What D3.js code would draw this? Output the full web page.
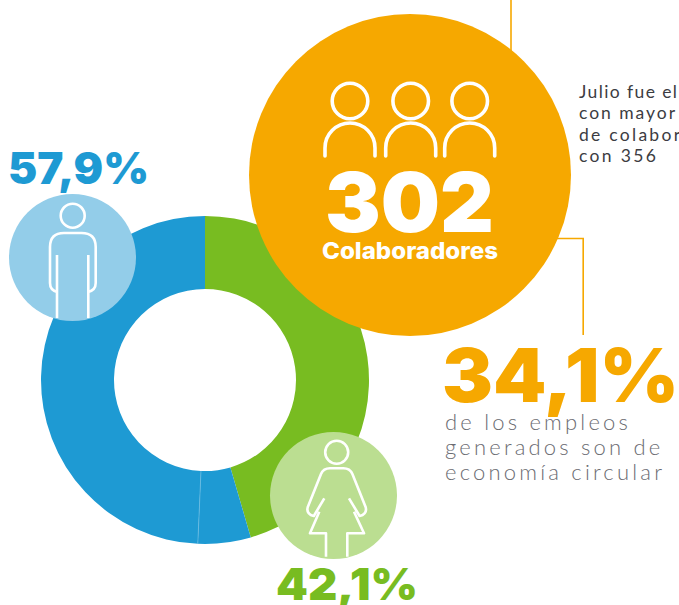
<!DOCTYPE html>
<html><head><meta charset="utf-8">
<script src="https://cdn.jsdelivr.net/npm/d3@7"></script>
<style>html,body{margin:0;padding:0;background:#fff;overflow:hidden}svg{display:block}</style>
</head><body><svg id="c" width="679" height="605"></svg>
<script>
const segmentNames = ["Mujeres","Hombres A","Hombres B"];
const segmentValues = [45.5, 5.2, 49.3];
const segmentColors = ["#78bc21","#1e9ad3","#1e9ad3"];
const malePct = "57,9%", femalePct = "42,1%", totalValue = "302", totalLabel = "Colaboradores";
const circularPct = "34,1%";
const circularLines = ["de los empleos","generados son de","economía circular"];
const noteLines = ["Julio fue el","con mayor","de colabor","con 356"];
const noteWidths = [98,96,101,77];
const ORANGE="#f6a800", BLUE="#1e9ad3", GREEN="#78bc21";
const BOLD="Inter, 'Noto Sans', sans-serif", LIGHT="Lato, 'Open Sans', sans-serif";

const svg=d3.select("#c");
const pie=d3.pie().sort(null).value(d=>d)(segmentValues);
const arc=d3.arc().innerRadius(91).outerRadius(164);
svg.append("g").attr("transform","translate(205,380)")
  .selectAll("path").data(pie).join("path").attr("d",arc)
  .attr("fill",(d,i)=>segmentColors[i]);
// faint seam between the two blue segments
const seamA=pie[1].endAngle;
svg.append("line").attr("x1",205+91*Math.sin(seamA)).attr("y1",380-91*Math.cos(seamA))
  .attr("x2",205+164*Math.sin(seamA)).attr("y2",380-164*Math.cos(seamA))
  .attr("stroke","#6fbde3").attr("stroke-width",0.7);

// connectors
svg.append("path").attr("d","M511,0V52").attr("fill","none").attr("stroke",ORANGE).attr("stroke-width",1.6);
svg.append("path").attr("d","M550,238.5H583.2V335").attr("fill","none").attr("stroke",ORANGE).attr("stroke-width",1.6);

// discs
svg.append("circle").attr("cx",410).attr("cy",175).attr("r",161).attr("fill",ORANGE);
svg.append("circle").attr("cx",72.5).attr("cy",257.5).attr("r",63.5).attr("fill","#93cde9");
svg.append("circle").attr("cx",333.5).attr("cy",495.5).attr("r",63.5).attr("fill","#bbde91");

const ink=svg.append("g").attr("fill","none").attr("stroke","#fff").attr("stroke-linecap","round").attr("stroke-linejoin","round");
// man
ink.append("circle").attr("cx",72.7).attr("cy",215.7).attr("r",12).attr("stroke-width",2.6);
ink.append("path").attr("stroke-width",2.6).attr("stroke-linecap","butt")
 .attr("d","M57,255V318M88.3,255V318M57,292Q50,290 50,283V247Q50,233 64,233H81.5Q95.7,233 95.7,247V283Q95.7,290 88.3,292");
// woman
ink.append("circle").attr("cx",336.7).attr("cy",452.3).attr("r",11.5).attr("stroke-width",2.6);
ink.append("path").attr("stroke-width",2.6).attr("stroke-linecap","butt")
 .attr("d","M324.3,498.3L313.8,516Q306,514 307.7,507.3L321,474Q323.5,468.3 330,468.3H343.4Q349.9,468.3 352.4,474L365.7,507.3Q367.4,514 359.6,516L349,498.3M319.3,511.7L310,533.3H326V556.7M354,511.7L364,533.3H347.3V556.7");
// group
[350,410.7,469.7].forEach(x=>{
  ink.append("circle").attr("cx",x).attr("cy",101).attr("r",17.8).attr("stroke-width",3.6);
  ink.append("path").attr("stroke-width",3.6).attr("d",`M${x-25},156V148A25,25 0 0 1 ${x+25},148V156`);
});

function t(s,x,y,o){
  return svg.append("text").text(s).attr("x",x).attr("y",y)
   .attr("font-family",o.f).attr("font-size",o.s).attr("font-weight",o.w).attr("fill",o.c)
   .attr("letter-spacing",o.ls||0).attr("textLength",o.tl||null).attr("lengthAdjust",o.tl?(o.la||"spacingAndGlyphs"):null);
}
t(malePct,8,184,{f:BOLD,s:44,w:900,c:BLUE,tl:141});
t(femalePct,276,600,{f:BOLD,s:44,w:900,c:GREEN,tl:142});
t(circularPct,442,402,{f:BOLD,s:74,w:900,c:ORANGE,tl:237});
t(totalValue,325,232,{f:BOLD,s:83,w:900,c:"#fff",tl:169});
t(totalLabel,322,259,{f:BOLD,s:23,w:800,c:"#fff",tl:176});
circularLines.forEach((l,i)=>t(l,445,430+i*25,{f:LIGHT,s:22,w:300,c:"#6b6c72",ls:3.2}));
noteLines.forEach((l,i)=>t(l,579,98+i*21.4,{f:LIGHT,s:17.5,w:400,c:"#3c3c42",tl:noteWidths[i],la:"spacing"}));
</script></body></html>
